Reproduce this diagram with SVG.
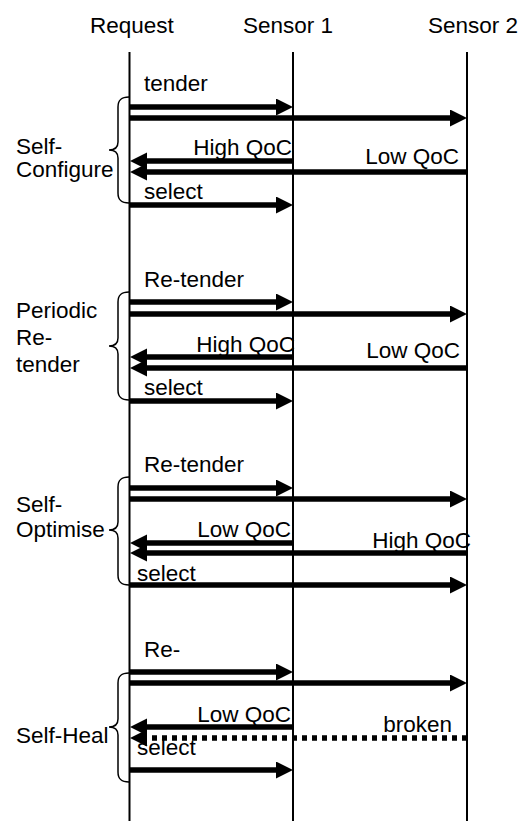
<svg xmlns="http://www.w3.org/2000/svg" width="519" height="821" viewBox="0 0 519 821">
  <style>
    text { font-family: "Liberation Sans", Arial, sans-serif; font-size: 22.5px; fill: #000; }
    .end { text-anchor: end; }
    .life { stroke: #000; stroke-width: 2; fill: none; }
    .msg { stroke: #000; stroke-width: 5.5; fill: none; marker-end: url(#head); }
    .lost { stroke-dasharray: 5 5; }
    .brace { stroke: #000; stroke-width: 1.5; fill: none; }
  </style>
  <defs>
    <marker id="head" markerUnits="userSpaceOnUse" markerWidth="18" markerHeight="18" refX="7" refY="8.5" orient="auto">
      <path d="M0,0 L17,8.5 L0,17 Z" fill="#000"/>
    </marker>
  </defs>
  <rect width="519" height="821" fill="#fff"/>

  <!-- participants and lifelines -->
  <g id="request">
    <text x="90" y="33">Request</text>
    <line class="life" x1="129.5" y1="52" x2="129.5" y2="821"/>
  </g>
  <g id="sensor1">
    <text x="243" y="33">Sensor 1</text>
    <line class="life" x1="293" y1="52" x2="293" y2="821"/>
  </g>
  <g id="sensor2">
    <text x="428" y="33">Sensor 2</text>
    <line class="life" x1="467" y1="52" x2="467" y2="821"/>
  </g>

  <!-- phase braces and labels -->
  <g id="self-configure">
    <path class="brace" d="M129,97 C121,97 118,100 118,107 L118,142 C118,147 115,150 109,150 C115,150 118,153 118,158 L118,193 C118,200 121,203 129,203"/>
    <text x="16" y="154">Self-</text>
    <text x="16" y="177">Configure</text>
  </g>
  <g id="periodic-retender">
    <path class="brace" d="M129,292 C121,292 118,295 118,302 L118,338 C118,343 115,346 109,346 C115,346 118,349 118,354 L118,390 C118,397 121,400 129,400"/>
    <text x="16" y="318">Periodic</text>
    <text x="16" y="345">Re-</text>
    <text x="16" y="372">tender</text>
  </g>
  <g id="self-optimise">
    <path class="brace" d="M129,477 C121,477 118,480 118,487 L118,522 C118,527 115,530 109,530 C115,530 118,533 118,538 L118,575 C118,582 121,585 129,585"/>
    <text x="16" y="512">Self-</text>
    <text x="16" y="537">Optimise</text>
  </g>
  <g id="self-heal">
    <path class="brace" d="M129,673 C121,673 118,676 118,683 L118,719 C118,724 115,727 109,727 C115,727 118,730 118,735 L118,772 C118,779 121,782 129,782"/>
    <text x="16" y="743">Self-Heal</text>
  </g>

  <!-- messages -->
  <g id="connectors">
    <!-- self-configure -->
    <line class="msg" x1="130" y1="107" x2="283" y2="107"/>
    <line class="msg" x1="130" y1="118" x2="457" y2="118"/>
    <line class="msg" x1="293" y1="161" x2="140" y2="161"/>
    <line class="msg" x1="467" y1="172" x2="140" y2="172"/>
    <line class="msg" x1="130" y1="205" x2="283" y2="205"/>
    <!-- periodic re-tender -->
    <line class="msg" x1="130" y1="302" x2="283" y2="302"/>
    <line class="msg" x1="130" y1="314" x2="457" y2="314"/>
    <line class="msg" x1="293" y1="357" x2="140" y2="357"/>
    <line class="msg" x1="467" y1="368" x2="140" y2="368"/>
    <line class="msg" x1="130" y1="401" x2="283" y2="401"/>
    <!-- self-optimise -->
    <line class="msg" x1="130" y1="488" x2="283" y2="488"/>
    <line class="msg" x1="130" y1="499" x2="457" y2="499"/>
    <line class="msg" x1="293" y1="543" x2="140" y2="543"/>
    <line class="msg" x1="467" y1="553" x2="140" y2="553"/>
    <line class="msg" x1="130" y1="585" x2="457" y2="585"/>
    <!-- self-heal -->
    <line class="msg" x1="130" y1="672" x2="283" y2="672"/>
    <line class="msg" x1="130" y1="683" x2="457" y2="683"/>
    <line class="msg" x1="293" y1="727" x2="140" y2="727"/>
    <line class="msg lost" x1="467" y1="738" x2="140" y2="738"/>
    <line class="msg" x1="130" y1="770" x2="283" y2="770"/>
  </g>

  <!-- message labels -->
  <g id="labels">
    <text x="144" y="91">tender</text>
    <text class="end" x="292" y="155">High QoC</text>
    <text class="end" x="459" y="164">Low QoC</text>
    <text x="144" y="199">select</text>

    <text x="144" y="287">Re-tender</text>
    <text class="end" x="295" y="352">High QoC</text>
    <text class="end" x="460" y="358">Low QoC</text>
    <text x="144" y="395">select</text>

    <text x="144" y="472">Re-tender</text>
    <text class="end" x="291" y="537">Low QoC</text>
    <text class="end" x="471" y="548">High QoC</text>
    <text x="137" y="581">select</text>

    <text x="144" y="657">Re-</text>
    <text class="end" x="291" y="722">Low QoC</text>
    <text class="end" x="452" y="732">broken</text>
    <text x="137" y="755">select</text>
  </g>
</svg>
